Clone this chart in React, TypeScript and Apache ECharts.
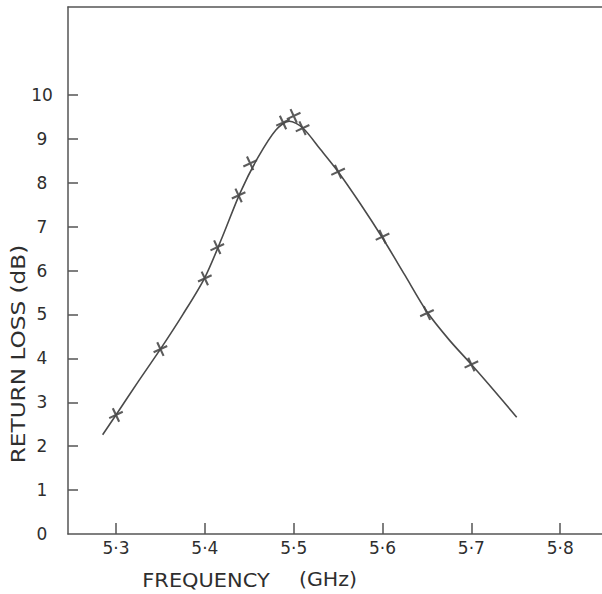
import React, { useEffect, useRef } from "react";
import * as echarts from "echarts";

// Measured points (crosses)
const pointFreq = [5.30, 5.35, 5.40, 5.414, 5.438, 5.451, 5.488, 5.50, 5.51, 5.55, 5.60, 5.65, 5.70];
const pointLoss = [2.71, 4.21, 5.82, 6.53, 7.71, 8.44, 9.37, 9.52, 9.24, 8.25, 6.77, 5.03, 3.86];

// Hand-drawn smooth curve
const curveFreq = [5.285, 5.30, 5.325, 5.35, 5.375, 5.40, 5.42, 5.44, 5.46, 5.48, 5.495, 5.51, 5.53, 5.55, 5.575, 5.60, 5.625, 5.65, 5.675, 5.70, 5.725, 5.751];
const curveLoss = [2.26, 2.71, 3.47, 4.21, 4.99, 5.84, 6.78, 7.78, 8.58, 9.20, 9.40, 9.25, 8.76, 8.25, 7.52, 6.74, 5.90, 5.06, 4.42, 3.86, 3.28, 2.66];

const xTicks = [5.3, 5.4, 5.5, 5.6, 5.7, 5.8];
const yTicks = [1, 2, 3, 4, 5, 6, 7, 8, 9, 10];
const yLabels = [0, 1, 2, 3, 4, 5, 6, 7, 8, 9, 10];

const xTitle = "FREQUENCY";
const xUnit = "(GHz)";
const yTitle = "RETURN LOSS (dB)";

const CROSS = "path://M-1.4,-10 L1.4,-10 L1.4,10 L-1.4,10 Z M-10,-1.4 L10,-1.4 L10,1.4 L-10,1.4 Z";

export default function App() {
  const ref = useRef<HTMLDivElement>(null);
  useEffect(() => {
    if (!ref.current) return;
    const chart = echarts.init(ref.current, undefined, { renderer: "svg" });
    const font = "DejaVu Sans";
    const lineColor = "#555";
    const textColor = "#2e2e2e";
    chart.setOption({
      animation: false,
      backgroundColor: "#ffffff",
      grid: { left: 68, right: 0, top: 7, bottom: 60 },
      xAxis: [
        {
          type: "value",
          min: 5.246,
          max: 5.847,
          axisLine: { show: true, lineStyle: { color: lineColor, width: 1.5 } },
          axisTick: {
            show: true,
            inside: true,
            length: 11,
            customValues: xTicks,
            lineStyle: { color: lineColor, width: 1.5 },
          },
          axisLabel: {
            customValues: xTicks,
            formatter: (v: number) => v.toFixed(1).replace(".", "·"),
            fontFamily: font,
            fontSize: 17,
            color: textColor,
            margin: 5,
          },
          splitLine: { show: false },
        },
        {
          type: "value",
          position: "top",
          min: 5.246,
          max: 5.847,
          axisLine: { show: true, lineStyle: { color: lineColor, width: 1.5 } },
          axisTick: { show: false },
          axisLabel: { show: false },
          splitLine: { show: false },
        },
      ],
      yAxis: {
        type: "value",
        min: 0,
        max: 12,
        interval: 1,
        axisLine: { show: true, lineStyle: { color: lineColor, width: 1.5 } },
        axisTick: {
          show: true,
          inside: true,
          length: 10,
          customValues: yTicks,
          lineStyle: { color: lineColor, width: 1.5 },
        },
        axisLabel: {
          customValues: yLabels,
          align: "center",
          margin: 26,
          fontFamily: font,
          fontSize: 17,
          color: textColor,
        },
        splitLine: { show: false },
      },
      series: [
        {
          type: "line",
          data: curveFreq.map((f, i) => [f, curveLoss[i]]),
          smooth: 0.3,
          showSymbol: false,
          lineStyle: { color: "#4a4a4a", width: 1.6 },
        },
        {
          type: "scatter",
          data: pointFreq.map((f, i) => [f, pointLoss[i]]),
          symbol: CROSS,
          symbolSize: 15,
          symbolRotate: 25,
          itemStyle: { color: "#333333" },
        },
      ],
      graphic: [
        {
          type: "text",
          x: 206,
          y: 580,
          scaleX: 1.1,
          style: {
            text: xTitle,
            fontFamily: font,
            fontSize: 19,
            fill: textColor,
            align: "center",
            verticalAlign: "middle",
          },
        },
        {
          type: "text",
          x: 328,
          y: 580,
          scaleX: 1.08,
          style: {
            text: xUnit,
            fontFamily: font,
            fontSize: 19,
            fill: textColor,
            align: "center",
            verticalAlign: "middle",
          },
        },
        {
          type: "text",
          x: 18,
          y: 354,
          rotation: Math.PI / 2,
          scaleX: 1.22,
          style: {
            text: yTitle,
            fontFamily: font,
            fontSize: 19,
            fill: textColor,
            align: "center",
            verticalAlign: "middle",
          },
        },
      ],
    });
    return () => chart.dispose();
  }, []);
  return (
    <div
      ref={ref}
      style={{ position: "absolute", left: 0, top: 0, width: 602, height: 594 }}
    />
  );
}
